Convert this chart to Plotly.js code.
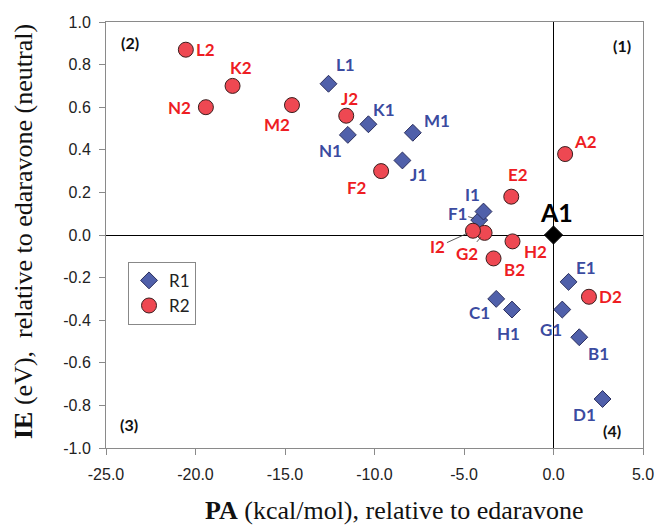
<!DOCTYPE html>
<html>
<head>
<meta charset="utf-8">
<script src="https://cdn.plot.ly/plotly-3.0.1.min.js"></script>
<style>html,body{margin:0;padding:0;background:#fff}#chart{width:655px;height:525px}</style>
</head>
<body>
<div id="chart"></div>
<script>
// ---- data ----
const r1Labels = ['B1','C1','D1','E1','F1','G1','H1','I1','J1','K1','L1','M1','N1'];
const r1PA     = [1.44,-3.20,2.74,0.84,-4.15,0.49,-2.32,-3.91,-8.44,-10.34,-12.57,-7.86,-11.49];
const r1IE     = [-0.48,-0.30,-0.77,-0.22,0.07,-0.35,-0.35,0.11,0.35,0.52,0.71,0.48,0.47];

const r2Labels = ['A2','B2','D2','E2','F2','G2','H2','I2','J2','K2','L2','M2','N2'];
const r2PA     = [0.65,-3.35,1.98,-2.36,-9.63,-3.85,-2.29,-4.50,-11.58,-17.93,-20.54,-14.61,-19.42];
const r2IE     = [0.38,-0.11,-0.29,0.18,0.30,0.01,-0.03,0.02,0.56,0.70,0.87,0.61,0.60];

const refLabel = ['A1'];
const refPA    = [0];
const refIE    = [0];

const xTickVals = [-25,-20,-15,-10,-5,0,5];
const xTickText = ['-25.0','-20.0','-15.0','-10.0','-5.0','0.0','5.0'];
const yTickVals = [-1,-0.8,-0.6,-0.4,-0.2,0,0.2,0.4,0.6,0.8,1];
const yTickText = ['-1.0','-0.8','-0.6','-0.4','-0.2','0.0','0.2','0.4','0.6','0.8','1.0'];

const quadLabels = ['(1)','(2)','(3)','(4)'];

// ---- label placement (styles, pixel offsets) ----
const shift = {
  L2:[20,0], K2:[8,18], N2:[-26,0], M2:[-15,-19], J2:[3,17],
  L1:[17,19], N1:[-17,-16], K1:[16,15], M1:[24,12], J1:[16,-14],
  F2:[-24,-16], E2:[7,22], A2:[20,13], H2:[23,-10], B2:[21,-11],
  C1:[-17,-14], H1:[-3,-24], E1:[17,14], G1:[-11,-20], D2:[22,0],
  B1:[19,-16], D1:[-18,-15]
};
const leader = { I1:[-11,-17], F1:[-22,-7], I2:[-35,16], G2:[-18,21] };
const quadPos = [[0.961,0.946],[0.045,0.953],[0.043,0.054],[0.943,0.04]];

const blueTxt = '#3B4BA0', redTxt = '#EE1D23';
const lblFont = 'Lato, Open Sans, sans-serif';
const serif = 'Liberation Serif, Times New Roman, serif';

const annotations = [];
function addLabels(labels, xs, ys, color) {
  labels.forEach((t, i) => {
    if (leader[t]) {
      annotations.push({x: xs[i], y: ys[i], xref:'x', yref:'y', text: t,
        showarrow: true, arrowhead: 0, arrowwidth: 0.8, arrowcolor: '#333',
        ax: leader[t][0], ay: leader[t][1], standoff: 6,
        font: {family: lblFont, size: 17, color: color, weight: 'bold'}});
    } else {
      const s = shift[t] || [0,0];
      annotations.push({x: xs[i], y: ys[i], xref:'x', yref:'y', text: t,
        showarrow: false, xshift: s[0], yshift: s[1],
        font: {family: lblFont, size: 17, color: color, weight: 'bold'}});
    }
  });
}
addLabels(r1Labels, r1PA, r1IE, blueTxt);
addLabels(r2Labels, r2PA, r2IE, redTxt);
annotations.push({x: refPA[0], y: refIE[0], xref:'x', yref:'y', text: refLabel[0],
  showarrow:false, xshift: 3, yshift: 23,
  font:{family: lblFont, size: 25, color:'#000', weight:'bold'}});
quadLabels.forEach((t,i) => annotations.push({x: quadPos[i][0], y: quadPos[i][1], xref:'paper', yref:'paper',
  xanchor:'center', yanchor:'middle',
  text: t, showarrow:false, font:{family: lblFont, size: 16, color:'#111', weight:'bold'}}));
// axis titles
annotations.push({x: 0.538, y: 0, xref:'paper', yref:'paper', yshift: -62, xanchor:'center', yanchor:'middle',
  text: '<b>PA</b> (kcal/mol), relative to edaravone', showarrow:false,
  font:{family: serif, size: 26, color:'#111'}});
annotations.push({x: 0, y: 0.507, xref:'paper', yref:'paper', xshift: -83, xanchor:'center', yanchor:'middle', textangle: -90,
  text: '<b>IE</b> (eV),&nbsp; relative to edaravone (neutral)', showarrow:false,
  font:{family: serif, size: 26, color:'#111'}});

const traces = [
  {type:'scatter', mode:'markers', name:'R1', x: r1PA, y: r1IE, text: r1Labels,
   marker:{symbol:'diamond', size:13, color:'#5060AA', line:{color:'#2B2F5E', width:1}}},
  {type:'scatter', mode:'markers', name:'R2', x: r2PA, y: r2IE, text: r2Labels,
   marker:{symbol:'circle', size:15, color:'#EE4852', line:{color:'#3A1E1E', width:1}}},
  {type:'scatter', mode:'markers', name:'A1', x: refPA, y: refIE, showlegend:false,
   marker:{symbol:'diamond', size:14, color:'#000', line:{color:'#000', width:1}}}
];

const axisCommon = {showgrid:false, showline:true, mirror:true, linecolor:'#8a8a8a', linewidth:1,
  ticks:'outside', ticklen:6, tickcolor:'#8a8a8a', zeroline:true, zerolinecolor:'#000', zerolinewidth:1,
  tickfont:{family:'Liberation Sans, Arial, sans-serif', size:16, color:'#222'}, fixedrange:true};

const layout = {
  width:655, height:525,
  margin:{l:106, r:12, t:22, b:77},
  paper_bgcolor:'#fff', plot_bgcolor:'#fff',
  xaxis: Object.assign({}, axisCommon, {range:[-25,5], tickvals:xTickVals, ticktext:xTickText, ticklabelstandoff:6}),
  yaxis: Object.assign({}, axisCommon, {range:[-1,1], tickvals:yTickVals, ticktext:yTickText, ticklabelstandoff:5}),
  showlegend:true,
  legend:{x:0.041, y:0.437, xanchor:'left', yanchor:'top', bgcolor:'#fff', bordercolor:'#888', borderwidth:1,
    font:{family:'Lato, Open Sans, sans-serif', size:17, color:'#222'}, tracegroupgap:0, itemwidth:30},
  annotations: annotations
};

Plotly.newPlot('chart', traces, layout, {displayModeBar:false, staticPlot:true});
</script>
</body>
</html>
